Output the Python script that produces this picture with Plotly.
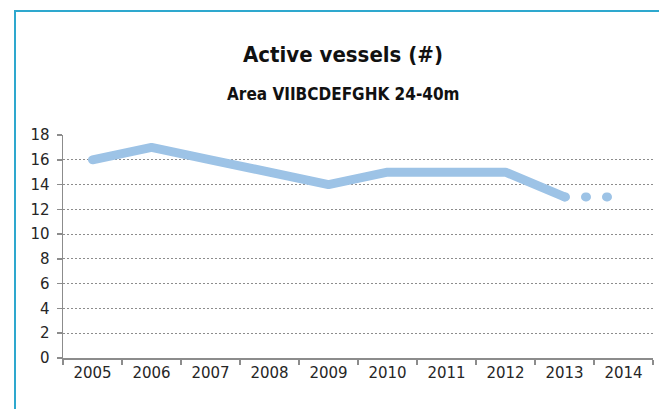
import plotly.graph_objects as go

years = ["2005", "2006", "2007", "2008", "2009", "2010", "2011", "2012", "2013", "2014"]
vessels = [16, 17, 16, 15, 14, 15, 15, 15, 13, 13]
n_actual = 9  # 2005-2013 solid, 2013-2014 dotted

title_text = "Active vessels (#)"
subtitle_text = "Area VIIBCDEFGHK 24-40m"
y_ticks = [0, 2, 4, 6, 8, 10, 12, 14, 16, 18]

line_color = "#9DC3E6"
frame_color = "#2EA8CE"
axis_color = "#8C8C8C"
grid_color = "#8C8C8C"
text_color = "#262626"

fig = go.Figure()
fig.add_trace(go.Scatter(
    x=years[:n_actual], y=vessels[:n_actual], mode="lines",
    line=dict(color=line_color, width=9), hoverinfo="skip", showlegend=False,
))
fig.add_trace(go.Scatter(
    x=years[n_actual - 1:], y=vessels[n_actual - 1:], mode="lines",
    line=dict(color=line_color, width=9, dash="1px,20px"), hoverinfo="skip", showlegend=False,
))

W, H = 659, 409
L, R, T, B = 63, 6, 135, 51
pw, ph = W - L - R, H - T - B

def px_x(px):
    return (px - L) / pw

def px_y(py):
    return 1 + (T - py) / ph

fig.add_shape(type="rect", xref="paper", yref="paper",
              x0=px_x(15), x1=px_x(700), y0=px_y(450), y1=px_y(11),
              line=dict(color=frame_color, width=2), fillcolor="rgba(0,0,0,0)", layer="below")

fig.add_annotation(text="<b>" + title_text + "</b>", xref="paper", yref="paper",
                   x=px_x(343), y=px_y(54), xanchor="center", yanchor="middle", showarrow=False,
                   font=dict(family="DejaVu Sans Condensed, DejaVu Sans", size=22, color="#111111"))
fig.add_annotation(text="<b>" + subtitle_text + "</b>", xref="paper", yref="paper",
                   x=px_x(343), y=px_y(94), xanchor="center", yanchor="middle", showarrow=False,
                   font=dict(family="DejaVu Sans Condensed, DejaVu Sans", size=17, color="#111111"))

fig.update_layout(
    width=W, height=H, margin=dict(l=L, r=R, t=T, b=B, pad=0),
    paper_bgcolor="white", plot_bgcolor="white",
    font=dict(family="DejaVu Sans", size=15, color=text_color),
    xaxis=dict(type="category", categoryorder="array", categoryarray=years,
               tickson="boundaries", ticks="outside", ticklen=5, tickcolor=axis_color, tickwidth=1.5,
               showline=True, linecolor=axis_color, linewidth=1.5, showgrid=False,
               range=[-0.5, len(years) - 0.5], tickfont=dict(size=15, color=text_color)),
    yaxis=dict(range=[0, 18], tickvals=y_ticks, ticks="outside", ticklen=5,
               tickcolor=axis_color, tickwidth=1.5, ticklabelstandoff=4,
               showline=True, linecolor=axis_color, linewidth=1.5,
               showgrid=True, gridcolor=grid_color, gridwidth=1.2, griddash="2px,2px",
               zeroline=False, tickfont=dict(size=15, color=text_color)),
)

post = """
document.body.style.margin='0';
document.body.style.overflow='hidden';
document.querySelectorAll('.js-line').forEach(function(p){
  p.style.strokeLinecap='round'; p.style.strokeLinejoin='round';
});
"""
fig.write_html("out.html", post_script=post, config={"displayModeBar": False, "staticPlot": True})
